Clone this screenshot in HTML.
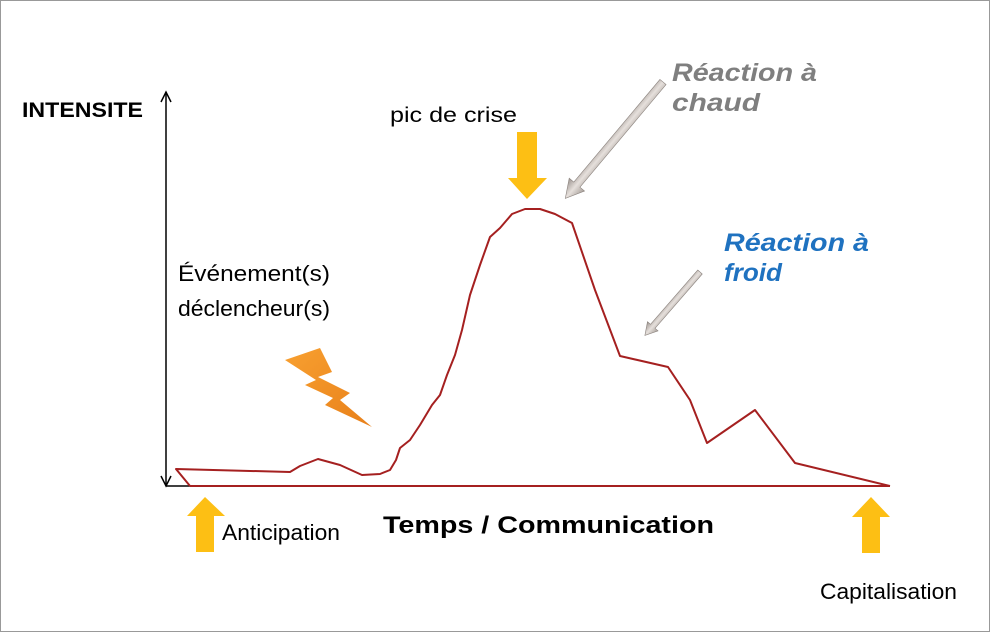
<!DOCTYPE html>
<html><head><meta charset="utf-8"><style>
html,body{margin:0;padding:0;background:#fff;}
svg{display:block;}
text{font-family:"Liberation Sans",sans-serif;}
</style></head><body>
<svg width="990" height="632" viewBox="0 0 990 632" xmlns="http://www.w3.org/2000/svg">
<defs>
<linearGradient id="g" x1="0" y1="0" x2="1" y2="0"><stop offset="0" stop-color="#9c948f"/><stop offset="0.5" stop-color="#e6e0dc"/><stop offset="1" stop-color="#a8a09a"/></linearGradient>
<linearGradient id="o" x1="0" y1="0" x2="1" y2="1"><stop offset="0" stop-color="#f8a030"/><stop offset="1" stop-color="#e8801a"/></linearGradient>
</defs>
<rect x="0.5" y="0.5" width="989" height="631" fill="#fff" stroke="#999"/>
<line x1="166" y1="92" x2="166" y2="486" stroke="#000" stroke-width="1.5"/>
<polyline points="161,102 166,92 171,102" fill="none" stroke="#000" stroke-width="1.5"/>
<polyline points="161,476 166,486 171,476" fill="none" stroke="#000" stroke-width="1.5"/>
<line x1="166" y1="486" x2="190" y2="486" stroke="#000" stroke-width="1.5"/>
<line x1="190" y1="486" x2="890" y2="486" stroke="#a52020" stroke-width="2"/>
<polyline fill="none" stroke="#a52020" stroke-width="2" stroke-linejoin="round" points="190,486 176,469 290,472 300,466 318,459 340,465 362,475 380,474 390,470 396,460 400,448 410,440 420,425 432,405 440,395 447,375 455,355 462,330 470,295 480,265 490,237 500,228 512,214 525,209 540,209 555,214 572,223 595,290 620,356 668,367 690,400 707,443 755,410 795,463 890,486"/>
<polygon fill="url(#o)" points="285,360 320,348 332,372 318,377 350,393 340,400 372,427 325,405 333,398 305,385 316,380"/>
<polygon fill="#fdbf14" points="517,132 537,132 537,178 547,178 527,199 508,178 517,178"/>
<polygon fill="#fdbf14" points="196,552 214,552 214,516 225,516 205,497 187,516 196,516"/>
<polygon fill="#fdbf14" points="862,553 880,553 880,517 890,517 871,497 852,517 862,517"/>
<g transform="translate(663,82) rotate(40)">
<polygon fill="url(#g)" stroke="#8a827d" stroke-width="0.6" points="-4,0 4,0 4,134 10,134 0,152 -10,134 -4,134"/>
</g>
<g transform="translate(700,272) rotate(41)">
<polygon fill="url(#g)" stroke="#8a827d" stroke-width="0.6" points="-3,0 3,0 3,72 7,72 0,84 -7,72 -3,72"/>
</g>
<g lengthAdjust="spacingAndGlyphs">
<text x="22" y="117" font-size="21" font-weight="bold" textLength="121" lengthAdjust="spacingAndGlyphs">INTENSITE</text>
<text x="390" y="122" font-size="21" textLength="127" lengthAdjust="spacingAndGlyphs">pic de crise</text>
<text x="178" y="281" font-size="22" textLength="152" lengthAdjust="spacingAndGlyphs">Événement(s)</text>
<text x="178" y="316" font-size="22" textLength="152" lengthAdjust="spacingAndGlyphs">déclencheur(s)</text>
<text x="383" y="533" font-size="24" font-weight="bold" textLength="331" lengthAdjust="spacingAndGlyphs">Temps / Communication</text>
<text x="222" y="540" font-size="22" textLength="118" lengthAdjust="spacingAndGlyphs">Anticipation</text>
<text x="820" y="599" font-size="22" textLength="137" lengthAdjust="spacingAndGlyphs">Capitalisation</text>
<text x="672" y="81" font-size="25" font-weight="bold" font-style="italic" fill="#7f7f7f" textLength="145" lengthAdjust="spacingAndGlyphs">Réaction à</text>
<text x="672" y="111" font-size="25" font-weight="bold" font-style="italic" fill="#7f7f7f" textLength="88" lengthAdjust="spacingAndGlyphs">chaud</text>
<text x="724" y="251" font-size="25" font-weight="bold" font-style="italic" fill="#1f72c0" textLength="145" lengthAdjust="spacingAndGlyphs">Réaction à</text>
<text x="724" y="281" font-size="25" font-weight="bold" font-style="italic" fill="#1f72c0" textLength="58" lengthAdjust="spacingAndGlyphs">froid</text>
</g>
</svg>
</body></html>
